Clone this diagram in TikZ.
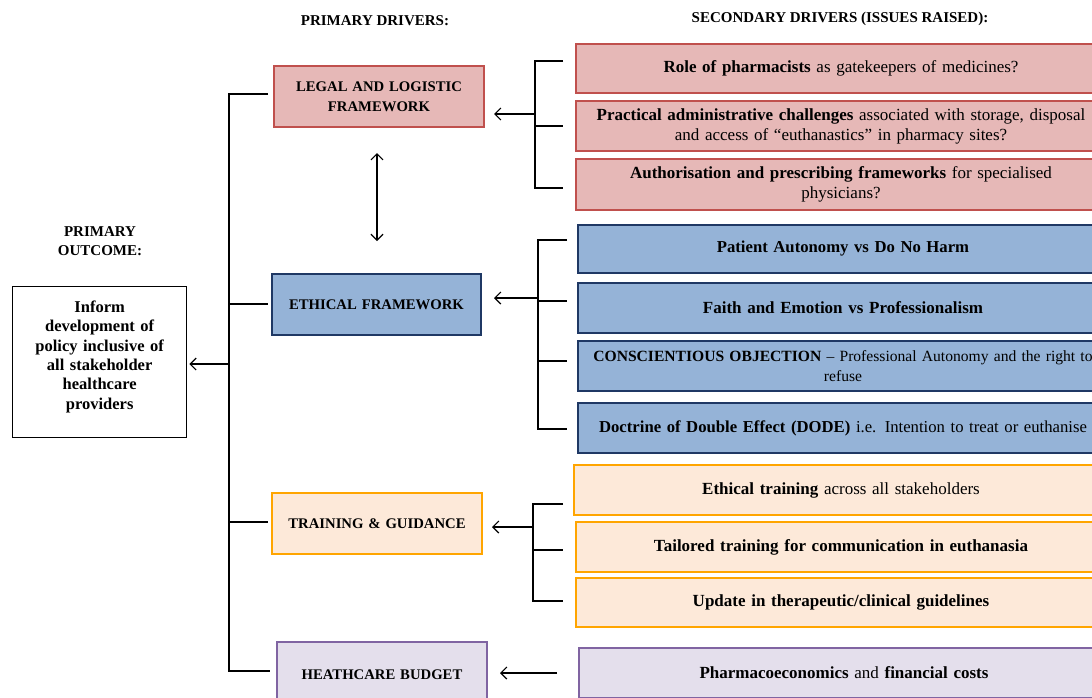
\documentclass[tikz,border=0pt]{standalone}
\usepackage{fontspec}
\setmainfont{Liberation Serif}
\usetikzlibrary{arrows.meta,calc}
\definecolor{redfill}{HTML}{E6B8B7}
\definecolor{redline}{HTML}{C0504D}
\definecolor{bluefill}{HTML}{95B3D7}
\definecolor{blueline}{HTML}{1F3864}
\definecolor{orafill}{HTML}{FDE9D9}
\definecolor{oraline}{HTML}{FFA500}
\definecolor{purfill}{HTML}{E4DFEC}
\definecolor{purline}{HTML}{8064A2}
\tikzset{
  bx/.style={draw, line width=2pt, inner sep=0pt, align=center, anchor=north west, font=\fontsize{17}{20}\selectfont},
  redbox/.style={bx, fill=redfill, draw=redline},
  bluebox/.style={bx, fill=bluefill, draw=blueline},
  orabox/.style={bx, fill=orafill, draw=oraline},
  purbox/.style={bx, fill=purfill, draw=purline},
  prim/.style={minimum width=210pt, minimum height=61pt, text width=200pt, font=\bfseries\fontsize{14.7}{19.5}\selectfont},
  sec/.style={minimum width=530pt, minimum height=50pt, text width=520pt},
  conn/.style={line width=1.2pt, black},
  arr/.style={conn, -{Straight Barb[length=6pt,width=12pt,line width=1.2pt]}},
  dbl/.style={conn, {Straight Barb[length=6pt,width=12pt,line width=1.2pt]}-{Straight Barb[length=6pt,width=12pt,line width=1.2pt]}},
  hdr/.style={font=\bfseries\fontsize{15}{19}\selectfont, align=center, inner sep=0pt}
}
\begin{document}
\begin{tikzpicture}[x=1pt,y=-1pt]
\useasboundingbox (0,0) rectangle (1092,697);
% headers
\node[hdr] (h1) at (375,21) {PRIMARY DRIVERS:};
\node[hdr] (h2) at (840,19) {SECONDARY DRIVERS (ISSUES RAISED):};
\node[hdr] (h3) at (100,241) {PRIMARY\\OUTCOME:};
% primary outcome
\node[bx, draw=black, line width=1.3pt, fill=white, minimum width=174pt, minimum height=151pt, text width=160pt, font=\bfseries\fontsize{16.5}{19.3}\selectfont] (outcome) at (12,286) {Inform\\development of\\policy inclusive of\\all stakeholder\\healthcare\\providers\\[-5pt]\mbox{}};
% primary drivers
\node[redbox, prim] (legal) at (273,65) {LEGAL AND LOGISTIC\\FRAMEWORK};
\node[bluebox, prim, minimum width=209pt] (ethical) at (271,273) {ETHICAL FRAMEWORK};
\node[orabox, prim] (training) at (271,492) {TRAINING \& GUIDANCE};
\node[purbox, prim, minimum height=66pt] (budget) at (276,641) {HEATHCARE BUDGET};
% secondary red
\node[redbox, sec, minimum height=49pt] (r1) at (575,43) {\textbf{Role of pharmacists} as gatekeepers of medicines?};
\node[redbox, sec] (r2) at (575,100) {\textbf{Practical administrative challenges} associated with storage, disposal\\and access of “euthanastics” in pharmacy sites?};
\node[redbox, sec, minimum height=51pt] (r3) at (575,158) {\textbf{Authorisation and prescribing frameworks} for specialised\\physicians?};
% secondary blue
\node[bluebox, sec, minimum height=48pt, font=\fontsize{16.7}{20}\selectfont] (b1) at (577,224) {\textbf{Patient Autonomy vs Do No Harm}};
\node[bluebox, sec] (b2) at (577,282) {\textbf{Faith and Emotion vs Professionalism}};
\node[bluebox, sec, font=\fontsize{15.6}{20}\selectfont] (b3) at (577,340) {\textbf{CONSCIENTIOUS OBJECTION} – Professional Autonomy and the right to\\refuse};
\node[bluebox, sec, font=\fontsize{16.7}{20}\selectfont] (b4) at (577,402) {\textbf{Doctrine of Double Effect (DODE)} i.e. Intention to treat or euthanise};
% secondary orange
\node[orabox, sec, minimum width=534pt] (o1) at (573,464) {\textbf{Ethical training} across all stakeholders};
\node[orabox, sec] (o2) at (575,521) {\textbf{Tailored training for communication in euthanasia}};
\node[orabox, sec, minimum height=49pt] (o3) at (575,577) {\textbf{Update in therapeutic/clinical guidelines}};
% secondary purple
\node[purbox, sec] (p1) at (578,647) {\textbf{Pharmacoeconomics} and \textbf{financial costs}};
% left bracket
\coordinate (lT) at (229,94);
\coordinate (lB) at (229,671);
\coordinate (lE) at (229,304);
\coordinate (lG) at (229,522);
\draw[conn] ([xshift=-5pt]legal.west |- lT) -- (lT) -- (lB) -- ([xshift=-6pt]budget.west |- lB);
\draw[conn] (lE) -- ([xshift=-3pt]ethical.west |- lE);
\draw[conn] (lG) -- ([xshift=-3pt]training.west |- lG);
\draw[arr] (229,364) coordinate (lA) -- ([xshift=2pt]outcome.east |- lA);
% double arrow
\coordinate (dT) at (377,153);
\coordinate (dB) at (377,241);
\draw[dbl] (dT) -- (dB);
% red bracket
\coordinate (rT) at (535,61);
\coordinate (rM) at (535,126);
\coordinate (rB) at (535,188);
\draw[conn] (563,61) -- (rT) -- (rB) -- (563,188);
\draw[conn] (rM) -- (563,126);
\draw[arr] (535,114) coordinate (rA) -- ([xshift=9pt]legal.east |- rA);
% blue bracket
\coordinate (bT) at (538,240);
\coordinate (bB) at (538,429);
\draw[conn] (567,240) -- (bT) -- (bB) -- (567,429);
\draw[conn] (538,301) -- (567,301);
\draw[conn] (538,361) -- (567,361);
\draw[arr] (538,298) coordinate (bA) -- ([xshift=12pt]ethical.east |- bA);
% orange bracket
\coordinate (oT) at (533,504);
\coordinate (oB) at (533,601);
\draw[conn] (563,504) -- (oT) -- (oB) -- (563,601);
\draw[conn] (533,550) -- (563,550);
\draw[arr] (533,527) coordinate (oA) -- ([xshift=9pt]training.east |- oA);
% purple
\draw[arr] ([xshift=-21pt]p1.west) -- ([xshift=12pt]budget.east |- p1.west);
\end{tikzpicture}
\end{document}
